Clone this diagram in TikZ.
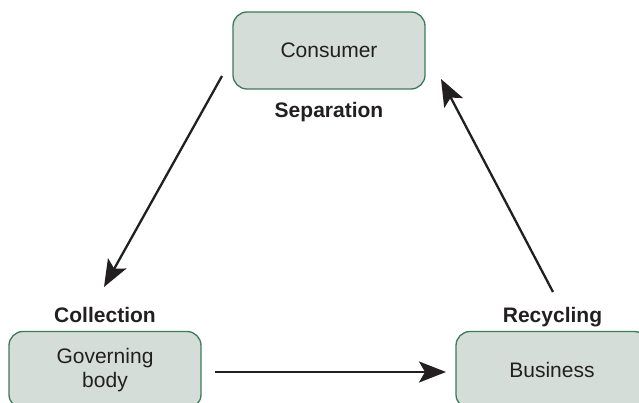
\documentclass[tikz,border=0pt]{standalone}
\usepackage{fontspec}
\setmainfont{Liberation Sans}
\usetikzlibrary{arrows.meta}
\definecolor{boxfill}{HTML}{D4DDD8}
\definecolor{boxline}{HTML}{3D7A5C}
\definecolor{txt}{HTML}{231F20}
\begin{document}
\begin{tikzpicture}[x=1pt,y=-1pt,
  box/.style={draw=boxline,fill=boxfill,line width=1.3pt,rounded corners=14pt,
    minimum width=192pt,minimum height=77pt,inner sep=0pt,align=center,
    text=txt,font=\fontsize{21}{24}\selectfont},
  lbl/.style={text=txt,font=\fontsize{21}{24}\selectfont\bfseries,anchor=base,inner sep=0pt},
  conn/.style={line width=2.3pt,draw=txt,-{Stealth[length=27pt,width=21pt,inset=6pt]}}]
\useasboundingbox (0,0) rectangle (639,403);
\node[box] (cons) at (329,50.5) {Consumer};
\node[box] (gov) at (105,370) {Governing\\body};
\node[box] (bus) at (552,370) {Business};
\node[lbl] (sep) at (329,118) {Separation};
\node[lbl] (col) at (105,322) {Collection};
\node[lbl] (rec) at (552.5,322) {Recycling};
\coordinate (a1s) at (222,76);
\coordinate (a1e) at (104,287);
\coordinate (a2s) at (215,372);
\coordinate (a2e) at (446,372);
\coordinate (a3s) at (553,292);
\coordinate (a3e) at (441,79);
\draw[conn] (a1s) -- (a1e);
\draw[conn] (a2s) -- (a2e);
\draw[conn] (a3s) -- (a3e);
\end{tikzpicture}
\end{document}
